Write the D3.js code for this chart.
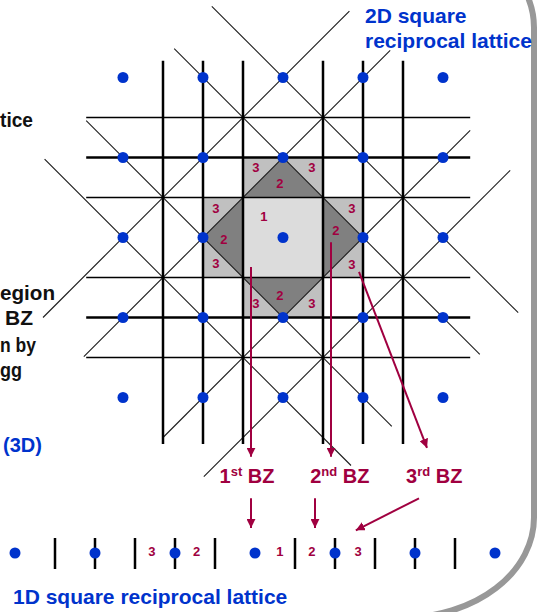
<!DOCTYPE html>
<html>
<head>
<meta charset="utf-8">
<script src="https://cdn.jsdelivr.net/npm/d3@7"></script>
<style>
body{margin:0;background:#fff;}
svg{display:block;font-family:"Liberation Sans",Arial,Helvetica,sans-serif;font-weight:bold;}
</style>
</head>
<body>
<script>
// lattice points (units of the reciprocal lattice spacing)
var lattice = [-2, -1, 0, 1, 2];
// zone boundary lines
var vLines = [-1.5, -1, -0.5, 0.5, 1, 1.5];
var hLines = [-1.5, -1, -0.5, 0.5, 1, 1.5];
var thickH = [-1, 1];
// diagonal bisectors u+v=c and u-v=c, with their u extents
var sumOffsets = [-2, -1, 1, 2];
var sumFrom = [-3.0, -2.49, -1.5, -0.99];
var sumTo = [0.83, 1.34, 2.34, 2.84];
var diffOffsets = [-2, -1, 1, 2];
var diffFrom = [-2.98, -2.46, -1.36, -0.89];
var diffTo = [0.85, 1.36, 2.46, 2.94];
// zone numbers inside the 2D picture
var zoneText = ["1", "3", "3", "2", "3", "2", "3", "3", "2", "3", "2", "3", "3"];
var zoneU = [-0.24, -0.34, 0.36, -0.04, -0.84, -0.74, -0.84, 0.86, 0.66, 0.86, -0.04, -0.34, 0.36];
var zoneV = [-0.27, -0.88, -0.88, -0.68, -0.37, 0.02, 0.32, -0.37, -0.09, 0.33, 0.72, 0.82, 0.82];
// arrows from the 2D zones to the labels
var arrowFromU = [-0.4, 0.6, 0.95];
var arrowFromV = [0.37, 0.06, 0.43];
var arrowToU = [-0.4, 0.6, 1.8];
var arrowToV = [2.74, 2.74, 2.63];
// zone name labels
var bzNum = ["1", "2", "3"];
var bzSup = ["st", "nd", "rd"];
var bzU = [-0.45, 0.71, 1.89];
// arrows from labels to the 1D lattice
var arrow2FromU = [-0.4, 0.4, 1.7];
var arrow2ToU = [-0.4, 0.4, 0.91];
var arrow2ToV = [3.63, 3.63, 3.66];
// 1D lattice
var dots1D = [-3, -2, -1, 0, 1, 2, 3];
var ticks1D = [-2.5, -2, -1.5, -1, -0.5, 0.5, 1, 1.5, 2, 2.5];
var labels1D = ["3", "2", "1", "2", "3"];
var labels1DPos = [-1.29, -0.73, 0.31, 0.71, 1.29];

var red = "#a00040", blue = "#0033cc";

var svg = d3.select("body").append("svg")
    .attr("width", 537)
    .attr("height", 612);

svg.append("defs").append("marker")
    .attr("id", "head")
    .attr("viewBox", "0 0 10 10")
    .attr("refX", 10).attr("refY", 5)
    .attr("markerWidth", 4.5).attr("markerHeight", 4.5)
    .attr("markerUnits", "strokeWidth")
    .attr("orient", "auto")
  .append("path")
    .attr("d", "M0,0L10,5L0,10z")
    .attr("fill", red);

// rounded frame (shadow edge) on the right
svg.append("path")
    .attr("d", "M-200,-72.5H404A130,100 0 0 1 534,27.5V517.5A130,100 0 0 1 404,617.5H-200")
    .attr("fill", "none")
    .attr("stroke", "#989898")
    .attr("stroke-width", 6);

// scales for the 2D lattice
var x = d3.scaleLinear().domain([-1, 1]).range([203, 363]);
var y = d3.scaleLinear().domain([-1, 1]).range([157.5, 317.5]);
// scale for the 1D lattice
var x1 = d3.scaleLinear().domain([-1, 1]).range([175, 335]);
var y1 = 553;

// zones: 3rd (rectangles), 2nd (diamond), 1st (square)
var rects3 = [[-0.5, -1, 1, 0.5], [-0.5, 0.5, 1, 0.5], [-1, -0.5, 0.5, 1], [0.5, -0.5, 0.5, 1]];
svg.selectAll(".z3").data(rects3).enter().append("rect")
    .attr("x", function(d){ return x(d[0]); })
    .attr("y", function(d){ return y(d[1]); })
    .attr("width", function(d){ return x(d[0] + d[2]) - x(d[0]); })
    .attr("height", function(d){ return y(d[1] + d[3]) - y(d[1]); })
    .attr("fill", "#c0c0c0");

var diamond = [[0, -1], [1, 0], [0, 1], [-1, 0]];
svg.append("path")
    .attr("d", d3.line().x(function(d){ return x(d[0]); }).y(function(d){ return y(d[1]); })(diamond) + "Z")
    .attr("fill", "#808080");

svg.append("rect")
    .attr("x", x(-0.5)).attr("y", y(-0.5))
    .attr("width", x(0.5) - x(-0.5)).attr("height", y(0.5) - y(-0.5))
    .attr("fill", "#dcdcdc");

// diagonal lines
var g = svg.append("g").attr("stroke", "#1a1a1a").attr("stroke-width", 1.1);
sumOffsets.forEach(function(c, i){
    g.append("line")
        .attr("x1", x(sumFrom[i])).attr("y1", y(c - sumFrom[i]))
        .attr("x2", x(sumTo[i])).attr("y2", y(c - sumTo[i]));
});
diffOffsets.forEach(function(c, i){
    g.append("line")
        .attr("x1", x(diffFrom[i])).attr("y1", y(diffFrom[i] - c))
        .attr("x2", x(diffTo[i])).attr("y2", y(diffTo[i] - c));
});

// horizontal and vertical zone boundaries
svg.selectAll(".hl").data(hLines).enter().append("line")
    .attr("x1", x(-2.46)).attr("x2", x(2.34))
    .attr("y1", function(d){ return y(d); })
    .attr("y2", function(d){ return y(d); })
    .attr("stroke", "#000")
    .attr("stroke-width", function(d){ return thickH.indexOf(d) >= 0 ? 2.4 : 1.6; });

svg.selectAll(".vl").data(vLines).enter().append("line")
    .attr("y1", y(-2.21)).attr("y2", y(2.58))
    .attr("x1", function(d){ return x(d); })
    .attr("x2", function(d){ return x(d); })
    .attr("stroke", "#000")
    .attr("stroke-width", 2.5);

// lattice points
var pts = [];
lattice.forEach(function(i){ lattice.forEach(function(j){ pts.push([i, j]); }); });
svg.selectAll(".pt").data(pts).enter().append("circle")
    .attr("cx", function(d){ return x(d[0]); })
    .attr("cy", function(d){ return y(d[1]); })
    .attr("r", 5.5)
    .attr("fill", blue);

// zone numbers
svg.selectAll(".zn").data(zoneText).enter().append("text")
    .attr("x", function(d, i){ return x(zoneU[i]); })
    .attr("y", function(d, i){ return y(zoneV[i]); })
    .attr("dy", "0.36em")
    .attr("text-anchor", "middle")
    .attr("font-size", 13)
    .attr("fill", red)
    .text(function(d){ return d; });

// arrows to the labels
arrowFromU.forEach(function(u, i){
    svg.append("line")
        .attr("x1", x(u)).attr("y1", y(arrowFromV[i]))
        .attr("x2", x(arrowToU[i])).attr("y2", y(arrowToV[i]))
        .attr("stroke", red).attr("stroke-width", 2)
        .attr("marker-end", "url(#head)");
});

// zone name labels
bzNum.forEach(function(n, i){
    var t = svg.append("text")
        .attr("x", x(bzU[i])).attr("y", y(3.07))
        .attr("text-anchor", "middle")
        .attr("font-size", 20)
        .attr("fill", red);
    t.append("tspan").text(n);
    t.append("tspan").attr("font-size", 13).attr("dy", -7).text(bzSup[i]);
    t.append("tspan").attr("dy", 7).text(" BZ");
});

arrow2FromU.forEach(function(u, i){
    svg.append("line")
        .attr("x1", x(u)).attr("y1", y(3.26))
        .attr("x2", x(arrow2ToU[i])).attr("y2", y(arrow2ToV[i]))
        .attr("stroke", red).attr("stroke-width", 2)
        .attr("marker-end", "url(#head)");
});

// 1D lattice
svg.selectAll(".tk").data(ticks1D).enter().append("line")
    .attr("x1", function(d){ return x1(d); })
    .attr("x2", function(d){ return x1(d); })
    .attr("y1", y1 - 15).attr("y2", y1 + 16)
    .attr("stroke", "#000").attr("stroke-width", 2.5);

svg.selectAll(".d1").data(dots1D).enter().append("circle")
    .attr("cx", function(d){ return x1(d); })
    .attr("cy", y1)
    .attr("r", 5.5)
    .attr("fill", blue);

svg.selectAll(".l1").data(labels1D).enter().append("text")
    .attr("x", function(d, i){ return x1(labels1DPos[i]); })
    .attr("y", y1 - 2)
    .attr("dy", "0.36em")
    .attr("text-anchor", "middle")
    .attr("font-size", 13)
    .attr("fill", red)
    .text(function(d){ return d; });

// titles
svg.append("text").attr("x", 365).attr("y", 23).attr("font-size", 21).attr("fill", blue).text("2D square");
svg.append("text").attr("x", 365).attr("y", 48).attr("font-size", 21).attr("fill", blue).text("reciprocal lattice");
svg.append("text").attr("x", 3).attr("y", 452).attr("font-size", 20).attr("fill", blue).text("(3D)");
svg.append("text").attr("x", 13).attr("y", 604).attr("font-size", 21).attr("fill", blue).text("1D square reciprocal lattice");

// black notes at the left edge (only their visible ends)
var notes = ["tice", "egion", "BZ", "n by", "gg"];
var notesX0 = [0, 0, 5, 0, 0];
var notesW = [33, 55, 28, 36, 22];
var notesY = [127, 300, 325, 352, 377];
notes.forEach(function(s, i){
    svg.append("text")
        .attr("x", notesX0[i]).attr("y", notesY[i])
        .attr("font-size", 20)
        .attr("textLength", notesW[i])
        .attr("lengthAdjust", "spacingAndGlyphs")
        .attr("fill", "#111")
        .text(s);
});
</script>
</body>
</html>
